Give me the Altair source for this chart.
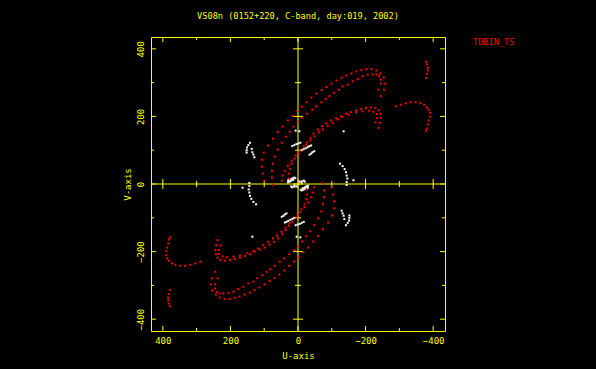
import altair as alt
import pandas as pd

# ---- red tracks (one half; conjugate (-u,-v) points added below) ----
t1_u = [-245, -255, -258, -254, -243, -232, -217, -202, -187, -173, -158, -143, -129, -114, -99, -84, -70,
        -55, -40, -26, -11, 2, 16, 30, 45, 60, 74, 89, 101, 107, 107, 104, 99]
t1_v = [260, 279, 297, 315, 327, 336, 340, 340, 337, 333, 327, 321, 314, 306, 297, 287, 278,
        268, 256, 242, 229, 216, 202, 188, 170, 154, 134, 114, 93, 72, 51, 31, 10]

t2_u = [-238, -245, -245, -240, -232, -221, -206, -191, -177, -162, -147, -132, -121, -106, -93, -82,
        -69, -54, -42, -26, -11, 1, 13, 24, 36, 48, 60, 69, 74, 77, 77, 74]
t2_v = [279, 297, 309, 319, 324, 324, 323, 319, 311, 304, 294, 289, 279, 270, 260, 252,
        242, 230, 220, 208, 196, 185, 170, 155, 140, 122, 102, 81, 60, 39, 19, -2]

t3_u = [-238, -242, -245, -243, -238, -229, -216, -201, -187, -172, -157, -142, -128, -113, -98,
        -84, -71, -59, -46, -37, -27, -17, -5, 7, 19, 30, 39, 45, 48]
t3_v = [166, 181, 196, 208, 218, 225, 227, 225, 222, 218, 213, 208, 200, 194, 188,
        179, 171, 161, 149, 136, 123, 111, 99, 84, 69, 54, 39, 25, 10]

t4_u = [-229, -234, -233, -223, -211, -191, -172, -150, -132, -118, -103, -88, -74, -62, -49,
        -37, -25, -15, -2, 10, 19, 24, 27, 27]
t4_v = [182, 195, 207, 214, 217, 215, 212, 205, 199, 191, 181, 171, 161, 153, 141,
        129, 116, 104, 90, 75, 60, 45, 31, 16]

t5_u = [-289, -304, -319, -334, -348, -363, -373, -382, -387, -390, -390, -387, -384, -382, -379]
t5_v = [230, 235, 239, 242, 242, 240, 235, 227, 220, 211, 199, 188, 176, 164, 158]

t6_u = [-379, -382, -384, -384, -382, -379]
t6_v = [362, 354, 344, 336, 326, 314]

# ---- white (short-baseline) points ----
w_u = [142, 147, 151, 152, 152, 137, 135, 132, 129,
       -124, -132, -138, -142, -144, -146, -144, -144, -164,
       17, 11, 5, -1, -7, -11, -17, -23, -29, -34, -39, -34, -39, -43, -48,
       7, -4, -135,
       29, 24, 20, 16, 11, 20, 11, -5, -11, -17, -8, -14, -20, -26, -30]
w_v = [122, 115, 108, 100, 93, 104, 94, 87, 79,
       60, 53, 44, 35, 25, 16, 6, -3, 11,
       112, 115, 118, 120, 122, 100, 103, 106, 109, 112, 114, 87, 90, 94, 97,
       158, 156, 156,
       11, 8, 14, 17, 19, -7, -5, 7, 8, 10, -17, -12, -10, -7, -5]

major_ticks = [-400, -200, 0, 200, 400]
minor_ticks = [-300, -100, 100, 300]
frame_edges = [-435, 0, 435]

YEL = "#ffff00"
FONT = "DejaVu Sans Mono"

rows = []
for us, vs, col in [(t1_u, t1_v, "red"), (t2_u, t2_v, "red"), (t3_u, t3_v, "red"),
                    (t4_u, t4_v, "red"), (t5_u, t5_v, "red"), (t6_u, t6_v, "red"),
                    (w_u, w_v, "white")]:
    for u, v in zip(us, vs):
        rows.append({"u": u, "v": v, "c": col})
        rows.append({"u": -u, "v": -v, "c": col})
pts_df = pd.DataFrame(rows)

xs = alt.Scale(domain=[-435, 435], reverse=True, nice=False, zero=False)
ys = alt.Scale(domain=[-435, 435], nice=False, zero=False)

pts = alt.Chart(pts_df).mark_square(size=4, opacity=1, strokeWidth=0).encode(
    x=alt.X("u:Q", scale=xs, title="U-axis",
            axis=alt.Axis(values=major_ticks, ticks=False, domain=False, grid=False,
                          labelColor=YEL, labelFont=FONT, labelFontSize=9, labelPadding=5,
                          labelFlush=False, titleColor=YEL, titleFont=FONT, titleFontSize=9,
                          titleFontWeight="normal", titlePadding=6)),
    y=alt.Y("v:Q", scale=ys, title="V-axis",
            axis=alt.Axis(values=major_ticks, ticks=False, domain=False, grid=False,
                          labelColor=YEL, labelFont=FONT, labelFontSize=9, labelPadding=6,
                          labelAngle=270, labelAlign="center", labelBaseline="bottom",
                          labelFlush=False, titleColor=YEL, titleFont=FONT, titleFontSize=9,
                          titleFontWeight="normal", titlePadding=4)),
    color=alt.Color("c:N", scale=alt.Scale(domain=["red", "white"], range=["#ff0000", "#ffffff"]),
                    legend=None),
)

zero_df = pd.DataFrame({"z": [0]})
vline = alt.Chart(zero_df).mark_rule(color=YEL, strokeWidth=1).encode(x=alt.X("z:Q", scale=xs))
hline = alt.Chart(zero_df).mark_rule(color=YEL, strokeWidth=1).encode(y=alt.Y("z:Q", scale=ys))

maj_df = pd.DataFrame([{"t": t, "e": e} for t in major_ticks for e in frame_edges])
min_df = pd.DataFrame([{"t": t, "e": e} for t in minor_ticks for e in frame_edges])

def tick_layers(df, size):
    a = alt.Chart(df).mark_tick(orient="vertical", size=size, thickness=1, color=YEL,
                                clip=True, opacity=1).encode(
        x=alt.X("t:Q", scale=xs), y=alt.Y("e:Q", scale=ys))
    b = alt.Chart(df).mark_tick(orient="horizontal", size=size, thickness=1, color=YEL,
                                clip=True, opacity=1).encode(
        x=alt.X("e:Q", scale=xs), y=alt.Y("t:Q", scale=ys))
    return [a, b]

label_df = pd.DataFrame({"s": ["TDBIN_TS"]})
tag = alt.Chart(label_df).mark_text(align="left", baseline="middle", color="#ff0000",
                                    font=FONT, fontSize=8.6, x=322, y=5).encode(text="s:N")

chart = alt.layer(
    vline, hline, *tick_layers(maj_df, 10), *tick_layers(min_df, 6), pts, tag
).properties(
    width=294, height=294,
    title=alt.Title("VS08n (0152+220, C-band, day:019, 2002)", color=YEL, font=FONT,
                    fontSize=8.6, fontWeight="normal", anchor="middle", offset=16),
    autosize=alt.AutoSizeParams(type="none"),
    padding={"left": 143, "top": 29, "right": 143, "bottom": 30},
    background="#000000",
).configure_view(stroke=YEL, strokeWidth=1)

chart.save("out.html", embed_options={"renderer": "svg", "actions": False,
                                      "defaultStyle": "html,body{background:#000000;}"})
